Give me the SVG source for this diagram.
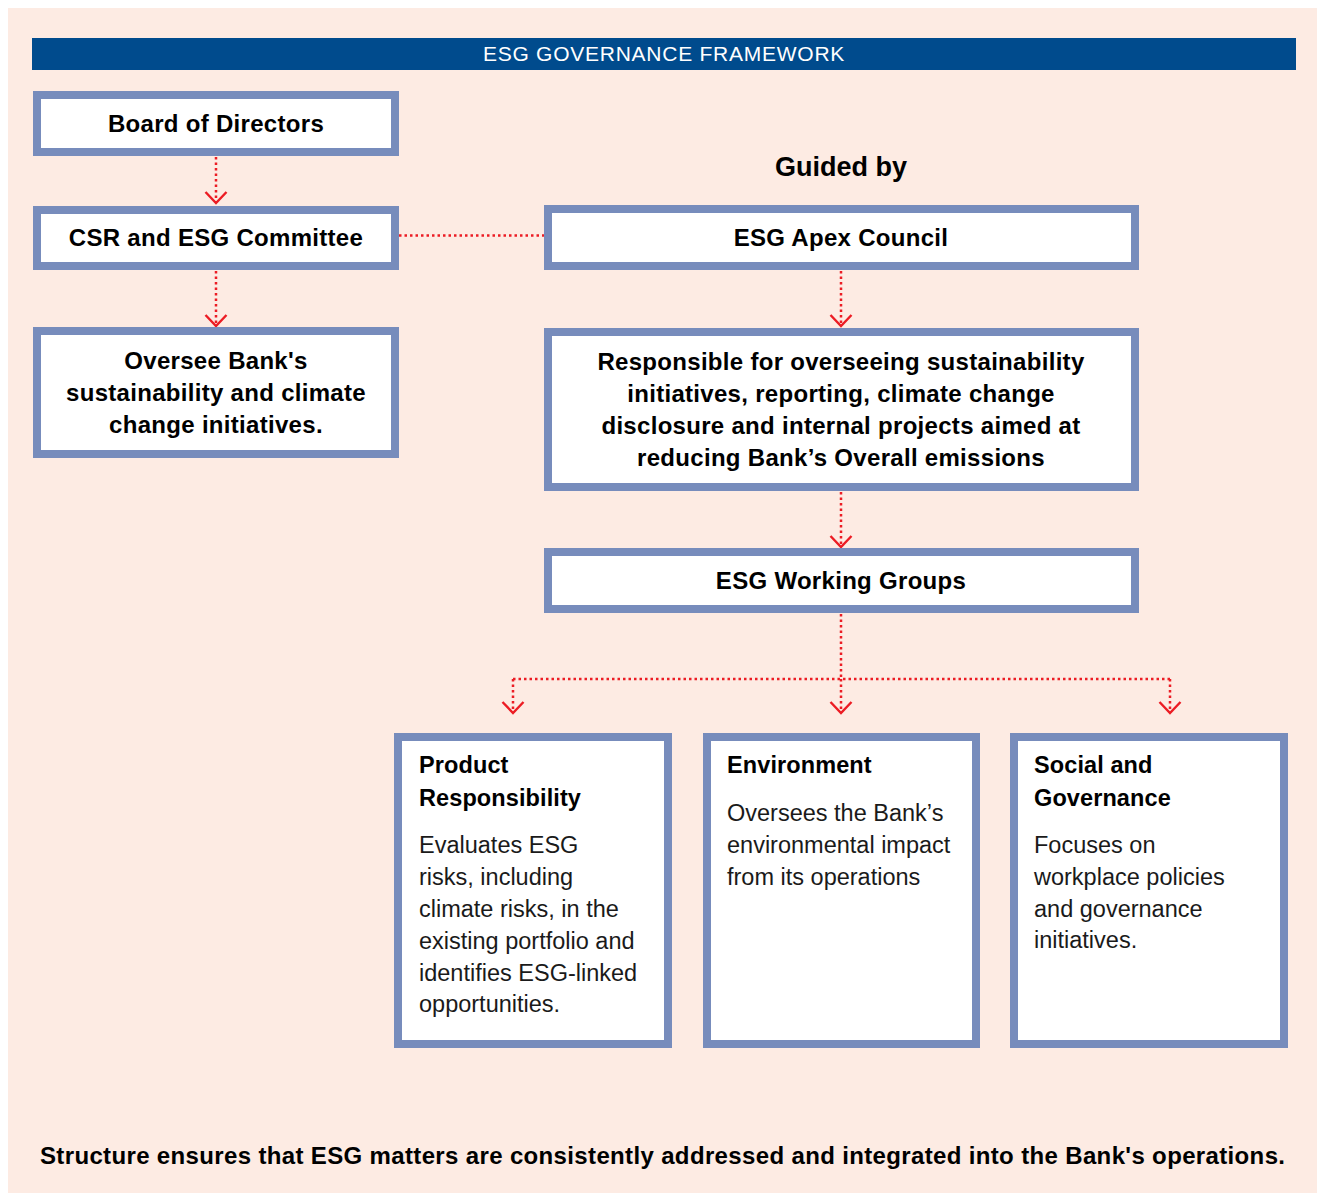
<svg xmlns="http://www.w3.org/2000/svg" width="1317" height="1202" viewBox="0 0 1317 1202">
<defs>
<style>
.bg{fill:#fdebe3}
.bar{fill:#004b8d}
.box{fill:#ffffff;stroke:#778cbc;stroke-width:8}
.t{font-family:"Liberation Sans",Arial,sans-serif;fill:#000}
.h{font-size:21px;fill:#ffffff;letter-spacing:0.75px}
.b{font-size:24px;font-weight:bold;letter-spacing:0.3px}
.c{text-anchor:middle}
.g{font-size:27px;font-weight:bold}
.st{font-size:23.5px;font-weight:bold;letter-spacing:0.1px}
.bd{font-size:23.5px;fill:#1a1a1a}
.f{font-size:24px;font-weight:bold}
.dot{fill:none;stroke:#ec1c24;stroke-width:2.5;stroke-dasharray:2.5 3}
</style>
<marker id="chev" markerUnits="userSpaceOnUse" markerWidth="30" markerHeight="30" refX="0" refY="0" orient="auto" overflow="visible">
<path d="M-11,-10.5 L0,0 L-11,10.5" fill="none" stroke="#ec1c24" stroke-width="2.4"/>
</marker>
</defs>
<rect class="bg" x="8" y="8" width="1309" height="1185"/>
<g id="header">
<rect class="bar" x="32" y="38" width="1264" height="32"/>
<text class="t h c" x="664" y="61">ESG GOVERNANCE FRAMEWORK</text>
</g>
<g id="connectors">
<path class="dot" d="M216,157 V203" marker-end="url(#chev)"/>
<path class="dot" d="M216,271 V326" marker-end="url(#chev)"/>
<path class="dot" d="M399,235.5 H544"/>
<path class="dot" d="M841,271 V326" marker-end="url(#chev)"/>
<path class="dot" d="M841,492 V547" marker-end="url(#chev)"/>
<path class="dot" d="M841,614 V679"/>
<path class="dot" d="M513,679 H1170"/>
<path class="dot" d="M513,679 V713" marker-end="url(#chev)"/>
<path class="dot" d="M841,679 V713" marker-end="url(#chev)"/>
<path class="dot" d="M1170,679 V713" marker-end="url(#chev)"/>
</g>
<g id="board">
<rect class="box" x="37" y="95" width="358" height="57"/>
<text class="t b c" x="216" y="132">Board of Directors</text>
</g>
<g id="csr">
<rect class="box" x="37" y="210" width="358" height="56"/>
<text class="t b c" x="216" y="246">CSR and ESG Committee</text>
</g>
<g id="oversee">
<rect class="box" x="37" y="331" width="358" height="123"/>
<text class="t b c" x="216" y="369">Oversee Bank's</text>
<text class="t b c" x="216" y="401">sustainability and climate</text>
<text class="t b c" x="216" y="433">change initiatives.</text>
</g>
<g id="guided">
<text class="t g c" x="841" y="176">Guided by</text>
</g>
<g id="apex">
<rect class="box" x="548" y="209" width="587" height="57"/>
<text class="t b c" x="841" y="246">ESG Apex Council</text>
</g>
<g id="responsible">
<rect class="box" x="548" y="332" width="587" height="155"/>
<text class="t b c" x="841" y="370">Responsible for overseeing sustainability</text>
<text class="t b c" x="841" y="402">initiatives, reporting, climate change</text>
<text class="t b c" x="841" y="434">disclosure and internal projects aimed at</text>
<text class="t b c" x="841" y="466">reducing Bank’s Overall emissions</text>
</g>
<g id="working">
<rect class="box" x="548" y="552" width="587" height="57"/>
<text class="t b c" x="841" y="589">ESG Working Groups</text>
</g>
<g id="product">
<rect class="box" x="398" y="737" width="270" height="307"/>
<text class="t st" x="419" y="773">Product</text>
<text class="t st" x="419" y="806">Responsibility</text>
<text class="t bd" x="419" y="853">Evaluates ESG</text>
<text class="t bd" x="419" y="885">risks, including</text>
<text class="t bd" x="419" y="917">climate risks, in the</text>
<text class="t bd" x="419" y="949">existing portfolio and</text>
<text class="t bd" x="419" y="981">identifies ESG-linked</text>
<text class="t bd" x="419" y="1012">opportunities.</text>
</g>
<g id="environment">
<rect class="box" x="707" y="737" width="269" height="307"/>
<text class="t st" x="727" y="773">Environment</text>
<text class="t bd" x="727" y="821">Oversees the Bank’s</text>
<text class="t bd" x="727" y="853">environmental impact</text>
<text class="t bd" x="727" y="885">from its operations</text>
</g>
<g id="social">
<rect class="box" x="1014" y="737" width="270" height="307"/>
<text class="t st" x="1034" y="773">Social and</text>
<text class="t st" x="1034" y="806">Governance</text>
<text class="t bd" x="1034" y="853">Focuses on</text>
<text class="t bd" x="1034" y="885">workplace policies</text>
<text class="t bd" x="1034" y="917">and governance</text>
<text class="t bd" x="1034" y="948">initiatives.</text>
</g>
<g id="footer">
<text class="t f" x="40" y="1164" textLength="1245" lengthAdjust="spacing">Structure ensures that ESG matters are consistently addressed and integrated into the Bank's operations.</text>
</g>
</svg>
